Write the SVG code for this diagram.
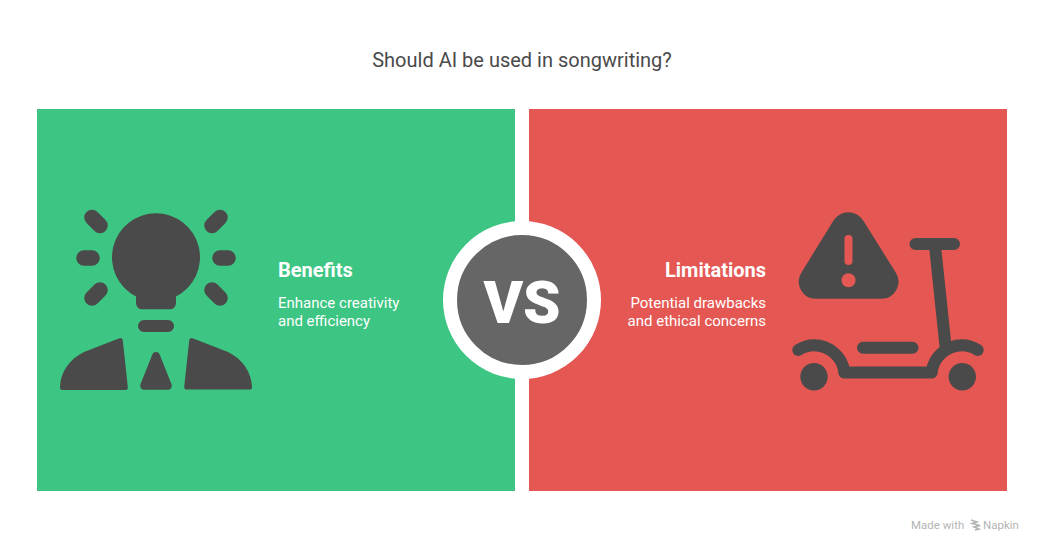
<svg xmlns="http://www.w3.org/2000/svg" width="1044" height="553" viewBox="0 0 1044 553">
<style>
text{font-family:Roboto,"Liberation Sans",sans-serif}
.ic{fill:#4a4a4a}
.ln{fill:none;stroke:#4a4a4a;stroke-linecap:round;stroke-linejoin:round}
.h{font-size:20px;font-weight:700;fill:#fff}
.d{font-size:15px;font-weight:400;fill:#fff}
</style>
<rect width="1044" height="553" fill="#fff"/>
<text id="title" x="522" y="67" text-anchor="middle" font-size="20" fill="#4a4a4a">Should AI be used in songwriting?</text>
<g id="benefits">
<rect x="37" y="109" width="478" height="382" fill="#3dc583"/>
<g id="bulb-icon">
<path class="ic" d="M156 213.300a44 44 0 0 1 20 83.200V303a6 6 0 0 1-6 6.300H142a6 6 0 0 1-6-6.300v-6.500a44 44 0 0 1 20-83.200Z"/>
<path class="ln" stroke-width="15.500" d="M92 217.500l8 8M220 217.500l-8 8M84 258h8M220 258h8M92 298l8-8M220 298l-8-8"/>
<rect class="ic" x="138" y="320" width="36" height="12" rx="6"/>
<path class="ic" d="M119.500 338.200a2.600 2.600 0 0 1 3.300 2.400l5 46.400a2.600 2.600 0 0 1-2.600 2.900H62.500a2.600 2.600 0 0 1-2.500-2.900c.5-15 9.500-28 24-35Z"/>
<path class="ic" d="M192.500 338.200a2.600 2.600 0 0 0-3.300 2.400l-5 46.200a2.600 2.600 0 0 0 2.600 2.800h62.700a2.600 2.600 0 0 0 2.500-2.700c-.5-15-9.500-28-24-35Z"/>
<path class="ic" d="M152.300 354.500a4 4 0 0 1 7.400 0l11.700 29.500a4 4 0 0 1-3.700 5.800h-23.400a4 4 0 0 1-3.700-5.800Z"/>
</g>
<text class="h" x="278" y="277">Benefits</text>
<text class="d" x="278" y="308">Enhance creativity</text>
<text class="d" x="278" y="326">and efficiency</text>
</g>
<g id="limitations">
<rect x="529" y="109" width="478" height="382" fill="#e55753"/>
<g id="scooter-icon">
<path class="ic" d="M833.500 220.500a17.500 17.500 0 0 1 29.700 0l32.500 52a17 17 0 0 1-14.500 26.200H816a17 17 0 0 1-14.500-26.200Z"/>
<path d="M848.500 239v22" fill="none" stroke="#e55753" stroke-width="8" stroke-linecap="round"/>
<circle cx="848.500" cy="280.300" r="7" fill="#e55753"/>
<path class="ln" stroke-width="12" d="M915.500 244h38.500M935 246l10.500 100M863 347.800h49.500"/>
<path class="ln" stroke-width="12" d="M798.300 350C803 347 808 345.300 814 345.300C830 345.300 843 358 844.300 372.500H931.700C933 358 946 345.300 962 345.300C968 345.300 973 347 977.700 350"/>
<circle class="ic" cx="814" cy="376.700" r="13.700"/>
<circle class="ic" cx="962.300" cy="376.700" r="13.700"/>
</g>
<text class="h" x="766" y="277" text-anchor="end">Limitations</text>
<text class="d" x="766" y="308" text-anchor="end">Potential drawbacks</text>
<text class="d" x="766" y="326" text-anchor="end">and ethical concerns</text>
</g>
<g id="vs">
<circle cx="522" cy="300" r="72" fill="#666" stroke="#fff" stroke-width="14"/>
<text x="522" y="323" text-anchor="middle" font-size="60" font-weight="900" fill="#fff">VS</text>
</g>
<g id="connectors"></g>
<g id="credit">
<text x="911" y="529" font-size="11.500" fill="#b4b4b4">Made with</text>
<path fill="none" stroke="#b4b4b4" stroke-width="1.500" d="M971 520l6 2-5 1.500 8 2-6 1.500 5 2-4 1"/>
<text x="983" y="529" font-size="11.500" fill="#b4b4b4">Napkin</text>
</g>
</svg>
